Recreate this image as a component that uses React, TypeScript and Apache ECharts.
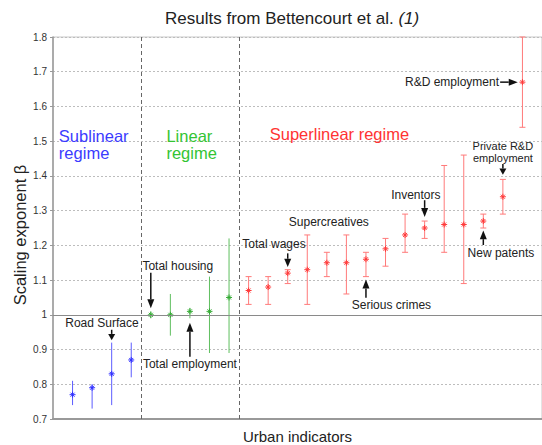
import React, { useEffect, useRef } from "react";
import * as echarts from "echarts";

// Indicator position (1..24), exponent beta, 95% CI and regime (0 sub, 1 lin, 2 super)
const positions = [1, 2, 3, 4, 5, 6, 7, 8, 9, 10, 11, 12, 13, 14, 15, 16, 17, 18, 19, 20, 21, 22, 23, 24];
const beta = [0.77, 0.79, 0.83, 0.87, 1.0, 1.0, 1.01, 1.01, 1.05, 1.07, 1.08, 1.12, 1.13, 1.15, 1.15, 1.16, 1.19, 1.23, 1.25, 1.26, 1.26, 1.27, 1.34, 1.67];
const ciLow = [0.74, 0.73, 0.74, 0.82, 0.99, 0.94, 0.99, 0.89, 0.89, 1.03, 1.03, 1.09, 1.03, 1.11, 1.06, 1.11, 1.14, 1.18, 1.22, 1.18, 1.09, 1.25, 1.29, 1.54];
const ciHigh = [0.81, 0.8, 0.92, 0.92, 1.01, 1.06, 1.02, 1.11, 1.22, 1.11, 1.11, 1.13, 1.23, 1.18, 1.23, 1.18, 1.22, 1.29, 1.27, 1.43, 1.46, 1.29, 1.39, 1.8];
const regime = [0, 0, 0, 0, 1, 1, 1, 1, 1, 2, 2, 2, 2, 2, 2, 2, 2, 2, 2, 2, 2, 2, 2, 2];

const regimeLines = ["#5c5cff", "#5fbf5f", "#ff7a7a"];
const regimeMarks = ["#2f2fff", "#33aa33", "#ff3a3a"];
const regimeTextColors = ["#3b3bff", "#33c433", "#ff3333"];

const regimeNames = ["Sublinear\nregime", "Linear\nregime", "Superlinear regime"];
const regimeLabelX = [0.3, 5.8, 11.08];
const regimeLabelY = [1.49, 1.49, 1.522];
const regimeBounds = [4.5, 9.5];

const yTicks = [0.7, 0.8, 0.9, 1.0, 1.1, 1.2, 1.3, 1.4, 1.5, 1.6, 1.7, 1.8];
const yAxisTitle = "Scaling exponent β";

const noteTexts = ["Road Surface", "Total housing", "Total employment", "Total wages", "Supercreatives", "Serious crimes", "Inventors", "New patents", "Private R&D", "employment", "R&D employment"];
const noteX = [2.5, 6.38, 7.0, 11.3, 14.1, 17.3, 18.55, 22.9, 23.0, 23.0, 20.4];
const noteY = [0.977, 1.141, 0.858, 1.203, 1.267, 1.028, 1.345, 1.178, 1.485, 1.451, 1.67];
const noteSizes = [12, 12, 12, 12, 12, 12, 12, 12, 11, 11, 12];

const arrowStartX = [3, 5, 7, 12, 16, 19, 22, 23, 22.86];
const arrowStartY = [0.957, 1.121, 0.879, 1.177, 1.049, 1.33, 1.201, 1.434, 1.67];
const arrowEndX = [3, 5, 7, 12, 16, 19, 22, 23, 23.76];
const arrowEndY = [0.927, 1.019, 0.977, 1.138, 1.102, 1.282, 1.243, 1.403, 1.67];

export default function App() {
  const ref = useRef<HTMLDivElement>(null);
  useEffect(() => {
    if (!ref.current) return;
    const chart = echarts.init(ref.current, null, { renderer: "svg" });
    const errData = positions.map((p, i) => [p, beta[i], ciLow[i], ciHigh[i], regime[i]]);
    const noteData = noteX.map((x, i) => [x, noteY[i]]);
    const regimeData = regimeLabelX.map((x, i) => [x, regimeLabelY[i]]);
    const arrowData = arrowStartX.map((x, i) => [x, arrowStartY[i], arrowEndX[i], arrowEndY[i]]);
    const font = "Liberation Sans, Arial, Helvetica, sans-serif";

    chart.setOption({
      animation: false,
      title: {
        text: "Results from Bettencourt et al. {i|(1)}",
        left: 160,
        top: 5,
        textStyle: {
          fontFamily: font,
          fontSize: 17,
          fontWeight: "normal",
          color: "#222",
          rich: {
            i: { fontFamily: font, fontSize: 17, fontStyle: "italic", color: "#222" },
          },
        },
      },
      graphic: [
        {
          type: "text",
          x: 20,
          y: 235,
          rotation: Math.PI / 2,
          style: {
            text: yAxisTitle,
            fill: "#222",
            font: `16.5px ${font}`,
            align: "center",
            verticalAlign: "middle",
          },
        },
      ],
      grid: {
        left: 53,
        top: 37,
        width: 489,
        height: 382,
        outerBoundsMode: "none",
        containLabel: false,
        show: true,
        borderColor: "#c8c8c8",
        borderWidth: 1,
      },
      xAxis: {
        type: "value",
        min: 0,
        max: 25,
        name: "Urban indicators",
        nameLocation: "middle",
        nameGap: 10,
        nameTextStyle: { fontFamily: font, fontSize: 15, color: "#222" },
        axisLine: { show: true, lineStyle: { color: "#999", width: 2 } },
        axisTick: { show: false },
        axisLabel: { show: false },
        splitLine: { show: false },
      },
      yAxis: {
        type: "value",
        min: yTicks[0],
        max: yTicks[yTicks.length - 1],
        interval: 0.1,
        axisLine: { show: true, lineStyle: { color: "#999", width: 1.5 } },
        axisTick: { show: true, length: 3, lineStyle: { color: "#999", width: 1 } },
        axisLabel: {
          fontFamily: font,
          fontSize: 10,
          color: "#333",
          margin: 6,
          formatter: (v: number) => String(+v.toFixed(1)),
        },
        splitLine: { show: true, lineStyle: { color: "#bdbdbd", type: [2, 2], width: 1 } },
      },
      series: [
        {
          type: "custom",
          name: "errorbars",
          data: errData,
          encode: { x: 0, y: 1 },
          z: 3,
          renderItem: (params: any, api: any) => {
            const x = api.value(0);
            const g = api.value(4);
            const c = api.coord([x, api.value(1)]);
            const top = api.coord([x, api.value(3)]);
            const bot = api.coord([x, api.value(2)]);
            const ls = { stroke: regimeLines[g], lineWidth: 1 };
            const ms = { stroke: regimeMarks[g], lineWidth: 1 };
            const children: any[] = [
              { type: "line", shape: { x1: c[0], y1: top[1], x2: c[0], y2: bot[1] }, style: ls },
            ];
            if (g === 2) {
              children.push({ type: "line", shape: { x1: c[0] - 3, y1: top[1], x2: c[0] + 3, y2: top[1] }, style: ls });
              children.push({ type: "line", shape: { x1: c[0] - 3, y1: bot[1], x2: c[0] + 3, y2: bot[1] }, style: ls });
            }
            const s = 3;
            children.push({ type: "line", shape: { x1: c[0] - s, y1: c[1], x2: c[0] + s, y2: c[1] }, style: ms });
            children.push({ type: "line", shape: { x1: c[0], y1: c[1] - s, x2: c[0], y2: c[1] + s }, style: ms });
            children.push({ type: "line", shape: { x1: c[0] - 2, y1: c[1] - 2, x2: c[0] + 2, y2: c[1] + 2 }, style: ms });
            children.push({ type: "line", shape: { x1: c[0] - 2, y1: c[1] + 2, x2: c[0] + 2, y2: c[1] - 2 }, style: ms });
            return { type: "group", children };
          },
          markLine: {
            silent: true,
            symbol: ["none", "none"],
            label: { show: false },
            data: [
              { yAxis: 1.0, lineStyle: { color: "#8a8a8a", type: "solid", width: 1 } },
              ...regimeBounds.map((b) => ({ xAxis: b, lineStyle: { color: "#666", type: [4, 3], width: 1 } })),
            ],
          },
        },
        {
          type: "custom",
          name: "regimes",
          data: regimeData,
          encode: { x: 0, y: 1 },
          z: 4,
          renderItem: (params: any, api: any) => {
            const p = api.coord([api.value(0), api.value(1)]);
            return {
              type: "text",
              x: p[0],
              y: p[1],
              style: {
                text: regimeNames[params.dataIndex],
                fill: regimeTextColors[params.dataIndex],
                font: `16.5px ${font}`,
                align: "left",
                verticalAlign: "middle",
                lineHeight: 17,
              },
            };
          },
        },
        {
          type: "custom",
          name: "notes",
          data: noteData,
          encode: { x: 0, y: 1 },
          z: 5,
          renderItem: (params: any, api: any) => {
            const p = api.coord([api.value(0), api.value(1)]);
            const fs = noteSizes[params.dataIndex];
            return {
              type: "text",
              x: p[0],
              y: p[1],
              style: {
                text: noteTexts[params.dataIndex],
                fill: "#222",
                font: `${fs}px ${font}`,
                align: "center",
                verticalAlign: "middle",
                lineHeight: fs,
              },
            };
          },
        },
        {
          type: "custom",
          name: "arrows",
          data: arrowData,
          encode: { x: [0, 2], y: [1, 3] },
          z: 5,
          renderItem: (params: any, api: any) => {
            const a = api.coord([api.value(0), api.value(1)]);
            const b = api.coord([api.value(2), api.value(3)]);
            const dx = b[0] - a[0];
            const dy = b[1] - a[1];
            const len = Math.sqrt(dx * dx + dy * dy) || 1;
            const ux = dx / len;
            const uy = dy / len;
            const hl = Math.min(9, len * 0.6);
            const hw = 3.5;
            const bx = b[0] - ux * hl;
            const by = b[1] - uy * hl;
            return {
              type: "group",
              children: [
                { type: "line", shape: { x1: a[0], y1: a[1], x2: bx, y2: by }, style: { stroke: "#111", lineWidth: 1.5 } },
                {
                  type: "polygon",
                  shape: { points: [[b[0], b[1]], [bx - uy * hw, by + ux * hw], [bx + uy * hw, by - ux * hw]] },
                  style: { fill: "#111" },
                },
              ],
            };
          },
        },
      ],
    });
    return () => chart.dispose();
  }, []);
  return <div ref={ref} style={{ position: "fixed", left: 0, top: 0, width: 542, height: 445, background: "#fff" }} />;
}
